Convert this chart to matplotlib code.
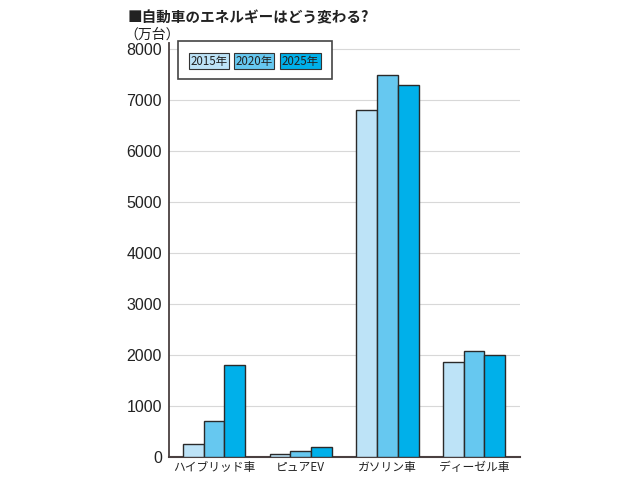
import matplotlib
matplotlib.use("Agg")
import matplotlib.pyplot as plt
from matplotlib.patches import Rectangle
import numpy as np

plt.rcParams['font.family'] = ['Noto Sans CJK JP', 'DejaVu Sans']

categories = ["ハイブリッド車", "ピュアEV", "ガソリン車", "ディーゼル車"]
years = ["2015年", "2020年", "2025年"]
v2015 = [250, 50, 6800, 1870]
v2020 = [700, 120, 7500, 2080]
v2025 = [1800, 200, 7300, 2000]
series = [v2015, v2020, v2025]
colors = ["#bde3f7", "#66c8f0", "#00b0ea"]
yticks = [0, 1000, 2000, 3000, 4000, 5000, 6000, 7000, 8000]

W, H = 640, 480
fig = plt.figure(figsize=(6.4, 4.8), dpi=100)
ax = fig.add_axes([169 / W, 1 - 457 / H, (520 - 169) / W, (457 - 43) / H])

x = np.arange(len(categories))
bw = 0.24
for i, (vals, c) in enumerate(zip(series, colors)):
    ax.bar(x + (i - 1) * bw, vals, width=bw, color=c, edgecolor="#2a2a2a",
           linewidth=1.0, zorder=3)

ax.set_xlim(-0.52, 3.53)
ax.set_ylim(0, 8120)
ax.set_yticks(yticks)
ax.set_yticklabels([str(t) for t in yticks], fontsize=11.5, color="#222222",
                   family=["Liberation Sans", "DejaVu Sans"])
ax.set_xticks(x)
ax.set_xticklabels(categories, fontsize=8.5, color="#222222")
ax.tick_params(axis="y", length=0, pad=5)
ax.tick_params(axis="x", length=0, pad=3)
ax.grid(axis="y", color="#d8d8d8", linewidth=0.8, zorder=0)
for s in ["top", "right"]:
    ax.spines[s].set_visible(False)
ax.spines["left"].set_color("#4a4040")
ax.spines["bottom"].set_color("#4a4040")
ax.spines["left"].set_linewidth(1.3)
ax.spines["bottom"].set_linewidth(1.5)

# Title and unit
fig.text(128 / W, 1 - 17 / H, "■自動車のエネルギーはどう変わる?", fontsize=10.5,
         fontweight="bold", ha="left", va="center", color="#222222")
fig.text(124 / W, 1 - 35 / H, "（万台）", fontsize=10, ha="left", va="center",
         color="#222222")

# Legend frame
fig.patches.append(Rectangle((178 / W, 1 - 79 / H), (332 - 178) / W, (79 - 41) / H,
                             transform=fig.transFigure, facecolor="white",
                             edgecolor="#444444", linewidth=1.2, zorder=5))
boxes = [(189, 229), (234, 274), (280, 321)]
for (x0, x1), c, lab in zip(boxes, colors, years):
    fig.patches.append(Rectangle((x0 / W, 1 - 69 / H), (x1 - x0) / W, 16 / H,
                                 transform=fig.transFigure, facecolor=c,
                                 edgecolor="#333333", linewidth=0.8, zorder=6))
    fig.text((x0 + x1) / 2 / W, 1 - 61 / H, lab, fontsize=8.3, ha="center",
             va="center", color="#222222", zorder=7)

fig.savefig("out.png", dpi=100)
